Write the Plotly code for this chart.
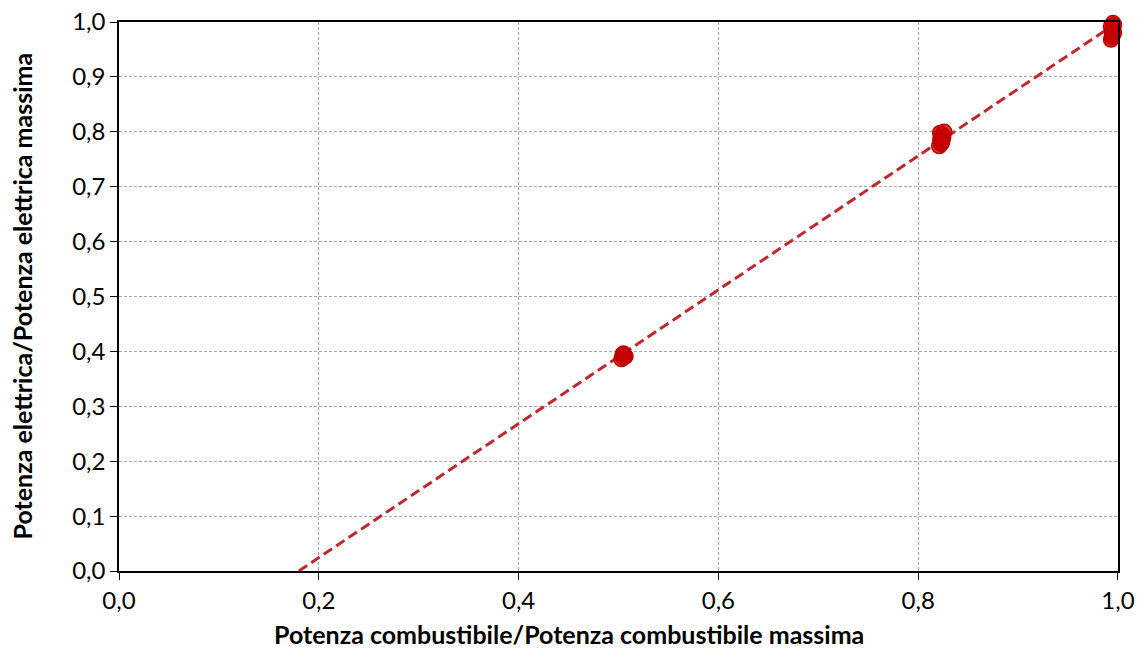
import plotly.graph_objects as go

# Data
x_points = [0.503, 0.505, 0.506, 0.504, 0.507, 0.505,
            0.821, 0.823, 0.824, 0.822, 0.825, 0.823, 0.824, 0.822, 0.826, 0.823,
            0.993, 0.994, 0.995, 0.996, 0.994, 0.995, 0.993, 0.996, 0.995, 0.994]
y_points = [0.386, 0.389, 0.392, 0.394, 0.391, 0.396,
            0.774, 0.778, 0.781, 0.785, 0.789, 0.792, 0.795, 0.798, 0.800, 0.783,
            0.968, 0.972, 0.977, 0.981, 0.985, 0.989, 0.992, 0.995, 0.998, 0.975]
fit_x = [0.18, 0.995]
fit_y = [0.0, 0.994]

x_ticks = [0.0, 0.2, 0.4, 0.6, 0.8, 1.0]
y_ticks = [0.0, 0.1, 0.2, 0.3, 0.4, 0.5, 0.6, 0.7, 0.8, 0.9, 1.0]
x_title = "<b>Potenza combustibile/Potenza combustibile massima</b>"
y_title = "<b>Potenza elettrica/Potenza elettrica massima</b>"

fig = go.Figure()
fig.add_trace(go.Scatter(
    x=fit_x, y=fit_y, mode="lines",
    line=dict(color="#C0272D", width=3, dash="10px,5px"),
    hoverinfo="skip", showlegend=False))
fig.add_trace(go.Scatter(
    x=x_points, y=y_points, mode="markers",
    marker=dict(size=15, color="rgba(200,0,0,0.75)",
                line=dict(color="#C00000", width=1.5)),
    showlegend=False, cliponaxis=False))

font = "Lato, Open Sans, sans-serif"
axis_common = dict(
    range=[0, 1.00001], tickformat=".1f", automargin=False,
    showgrid=True, gridcolor="#A6A6A6", griddash="3px,2px", gridwidth=1,
    showline=True, linecolor="black", linewidth=1.5, mirror=True,
    ticks="outside", ticklen=7, tickcolor="black", tickwidth=1,
    zeroline=False, tickfont=dict(size=24), ticklabeloverflow="allow",
)
fig.update_layout(
    width=1137, height=651,
    margin=dict(l=119, r=19, t=22, b=80),
    paper_bgcolor="white", plot_bgcolor="white",
    separators=",.",
    font=dict(family=font, size=25, color="black"),
    xaxis=dict(tickvals=x_ticks, **axis_common),
    yaxis=dict(tickvals=y_ticks, **axis_common),
    annotations=[
        dict(text=x_title, xref="paper", yref="paper", x=0.45, y=0,
             xanchor="center", yanchor="middle", yshift=-63, showarrow=False,
             font=dict(size=25)),
        dict(text=y_title, xref="paper", yref="paper", x=0, y=0.5,
             xanchor="center", yanchor="middle", xshift=-98, textangle=-90,
             showarrow=False, font=dict(size=25)),
    ],
)
# remove the default 8px page margin so the figure fills the window exactly
fig.write_html("out.html", config={"displayModeBar": False},
               post_script="document.body.style.margin='0';document.body.style.overflow='hidden';")
